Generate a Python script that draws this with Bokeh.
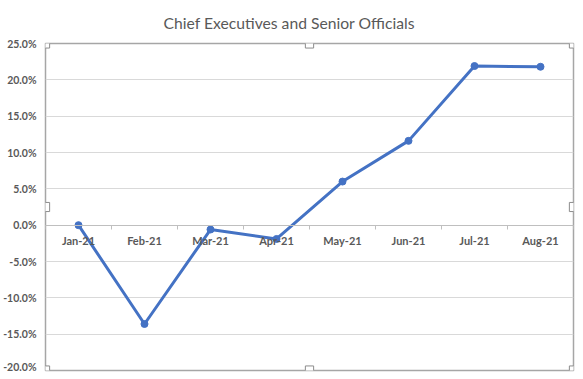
from bokeh.plotting import figure
from bokeh.models import (Range1d, LinearAxis, FixedTicker,
                          NumeralTickFormatter, ColumnDataSource, Label)
from bokeh.embed import file_html
from bokeh.resources import INLINE

# ---- data ----
months = ["Jan-21", "Feb-21", "Mar-21", "Apr-21", "May-21", "Jun-21", "Jul-21", "Aug-21"]
values = [0.000, -0.136, -0.006, -0.019, 0.060, 0.116, 0.219, 0.218]
y_ticks = [-0.20, -0.15, -0.10, -0.05, 0.0, 0.05, 0.10, 0.15, 0.20, 0.25]
title_text = "Chief Executives and Senior Officials"

FONT = "Lato"
GREY_TEXT = "#595959"
BLUE = "#4472C4"

n = len(months)
xpos = [i + 0.5 for i in range(n)]          # category centres

FW, FH = 528, 327
p = figure(frame_width=FW, frame_height=FH,
           x_range=Range1d(0, n),
           y_range=Range1d(y_ticks[0], y_ticks[-1]),
           output_backend="svg", toolbar_location=None,
           x_axis_location=None,
           min_border_left=45, min_border_right=2,
           min_border_top=42, min_border_bottom=2)

# title
p.title.text = title_text
p.title.align = "left"
p.title.offset = 118
p.title.standoff = 23
p.title.text_font = FONT
p.title.text_font_size = "15.7px"
p.title.text_font_style = "normal"
p.title.text_color = GREY_TEXT

# y axis
p.yaxis.ticker = FixedTicker(ticks=y_ticks)
p.yaxis.formatter = NumeralTickFormatter(format="0.0%")
p.yaxis.axis_line_color = None
p.yaxis.major_tick_line_color = None
p.yaxis.minor_tick_line_color = None
p.yaxis.major_tick_out = 0
p.yaxis.major_label_text_font = FONT
p.yaxis.major_label_text_font_size = "10.5px"
p.yaxis.major_label_text_font_style = "bold"
p.yaxis.major_label_text_color = GREY_TEXT
p.yaxis.major_label_standoff = 9

# boundary tick axis at y = 0 (axis line + ticks between categories)
tick_axis = LinearAxis(ticker=FixedTicker(ticks=list(range(n + 1))),
                       fixed_location=0,
                       axis_line_color="#bfbfbf", axis_line_width=1,
                       major_tick_line_color="#bfbfbf",
                       major_tick_out=0, major_tick_in=4,
                       minor_tick_line_color=None,
                       major_label_text_color=None,
                       major_label_text_font_size="1px",
                       major_label_standoff=0)
p.add_layout(tick_axis, "above")

# category label axis at y = 0 (labels below the zero line)
label_axis = LinearAxis(ticker=FixedTicker(ticks=xpos),
                        major_label_overrides={x: m for x, m in zip(xpos, months)},
                        fixed_location=0,
                        axis_line_color=None,
                        major_tick_line_color=None,
                        minor_tick_line_color=None,
                        major_tick_out=0, major_tick_in=0,
                        major_label_text_font=FONT,
                        major_label_text_font_size="11px",
                        major_label_text_font_style="bold",
                        major_label_text_color=GREY_TEXT,
                        major_label_standoff=-22)
p.add_layout(label_axis, "above")

# grid / outline
p.xgrid.grid_line_color = None
p.ygrid.grid_line_color = "#d9d9d9"
p.ygrid.grid_line_width = 1
p.outline_line_color = "#a6a6a6"
p.outline_line_width = 1.5
p.background_fill_color = "white"
p.border_fill_color = "white"

# series
src = ColumnDataSource(dict(x=xpos, y=values))
p.line("x", "y", source=src, line_color=BLUE, line_width=3)
p.scatter("x", "y", source=src, size=7, fill_color=BLUE, line_color=BLUE)

# selection handles of the plot area
ymin, ymax = y_ticks[0], y_ticks[-1]
hx = [0, n / 2, n, 0, n, 0, n / 2, n]
hy = [ymax] * 3 + [(ymin + ymax) / 2] * 2 + [ymin] * 3
for x, y in zip(hx, hy):
    p.add_layout(Label(x=x, y=y, text=" ", text_font_size="1px",
                       anchor="center", padding=4,
                       background_fill_color="white", background_fill_alpha=1.0,
                       border_line_color="#8c8c8c", border_line_width=1,
                       level="overlay"))

open("out.html", "w").write(file_html(p, INLINE))
